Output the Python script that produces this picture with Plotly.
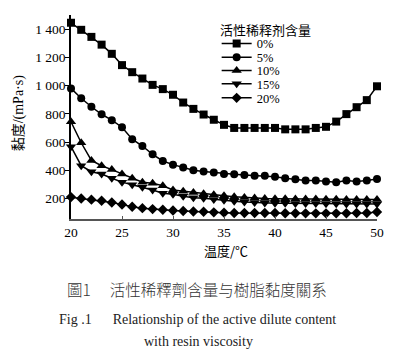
import plotly.graph_objects as go

# ---- data ----
temperature = [20, 21, 22, 23, 24, 25, 26, 27, 28, 29, 30, 31, 32, 33, 34, 35,
               36, 37, 38, 39, 40, 41, 42, 43, 44, 45, 46, 47, 48, 49, 50]
visc_0 = [1445, 1395, 1345, 1290, 1225, 1145, 1095, 1050, 1005, 975, 935, 880, 835, 795, 758, 722,
          700, 700, 700, 700, 700, 690, 690, 690, 700, 708, 745, 798, 847, 897, 995]
visc_5 = [980, 910, 850, 797, 755, 705, 620, 572, 513, 466, 440, 419, 400, 391, 384, 374,
          372, 367, 362, 362, 355, 344, 337, 327, 327, 320, 316, 327, 320, 327, 339]
visc_10 = [743, 595, 470, 432, 405, 374, 344, 316, 309, 290, 261, 252, 242, 234, 226, 219,
           213, 208, 204, 201, 199, 198, 197, 196, 196, 195, 195, 194, 194, 194, 194]
visc_15 = [567, 433, 390, 374, 344, 316, 297, 280, 261, 238, 231, 216, 206, 202, 194, 187,
           181, 176, 172, 169, 167, 166, 165, 164, 164, 163, 163, 162, 162, 162, 162]
visc_20 = [210, 200, 192, 184, 172, 158, 142, 132, 125, 120, 115, 112, 108, 106, 102, 100,
           98, 97, 97, 97, 97, 96, 96, 95, 95, 95, 95, 96, 97, 98, 105]

series_names = ["0%", "5%", "10%", "15%", "20%"]
series_values = [visc_0, visc_5, visc_10, visc_15, visc_20]
series_symbols = ["square", "circle", "triangle-up", "triangle-down", "diamond"]
series_sizes = [8, 8, 9, 9, 8]

x_ticks = [20, 25, 30, 35, 40, 45, 50]
y_ticks = [200, 400, 600, 800, 1000, 1200, 1400]
y_ticktext = ["200", "400", "600", "800", "1 000", "1 200", "1 400"]

legend_title = "活性稀释剂含量"
x_title = "温度/℃"
y_title = "黏度/(mPa·s)"
caption_cn = "圖1　 活性稀釋劑含量与樹脂黏度關系"
caption_en1 = "Fig .1      Relationship of the active dilute content"
caption_en2 = "with resin viscosity"

SERIF = "Liberation Serif, Noto Sans CJK SC"
CJK = "Noto Sans CJK SC, Liberation Serif"

fig = go.Figure()
legend_ids = ["legend", "legend2", "legend3", "legend4", "legend5"]
for name, vals, sym, sz, lid in zip(series_names, series_values, series_symbols, series_sizes, legend_ids):
    fig.add_trace(go.Scatter(
        x=temperature, y=vals, name=name, mode="lines+markers",
        line=dict(color="black", width=1.5),
        marker=dict(symbol=sym, size=sz, color="black"),
        cliponaxis=False, legend=lid,
    ))

legend_y = [0.858, 0.791, 0.726, 0.661, 0.592]
legend_layouts = {}
for lid, ly in zip(legend_ids, legend_y):
    legend_layouts[lid] = dict(
        x=0.476, y=ly, xanchor="left", yanchor="middle",
        bgcolor="rgba(0,0,0,0)", borderwidth=0,
        font=dict(family=SERIF, size=12.5, color="black"),
        itemwidth=30, tracegroupgap=0,
    )

fig.update_layout(
    width=404, height=359,
    margin=dict(l=71, r=27, t=15, b=140),
    paper_bgcolor="white", plot_bgcolor="white",
    showlegend=True,
    xaxis=dict(
        range=[20, 50], tickvals=x_ticks, showgrid=False, zeroline=False,
        showline=True, linecolor="#555", linewidth=1.5,
        ticks="inside", ticklen=3, tickcolor="#555",
        tickfont=dict(family=SERIF, size=13.5, color="black"),
    ),
    yaxis=dict(
        range=[55, 1500], tickvals=y_ticks, ticktext=y_ticktext,
        showgrid=False, zeroline=False,
        showline=True, linecolor="black", linewidth=1.5,
        ticks="outside", ticklen=4, tickcolor="black",
        ticklabelstandoff=-3,
        tickfont=dict(family=SERIF, size=13.5, color="black"),
    ),
    **legend_layouts,
)

fig.add_annotation(text=legend_title, xref="paper", yref="paper", x=0.482, y=0.93,
                   xanchor="left", yanchor="middle", showarrow=False,
                   font=dict(family=CJK, size=13, color="black"))
fig.add_annotation(text=x_title, xref="paper", yref="paper", x=0.506, y=-0.152,
                   xanchor="center", yanchor="middle", showarrow=False,
                   font=dict(family=CJK, size=13, color="black"))
fig.add_annotation(text=y_title, xref="paper", yref="paper", x=-0.1686, y=0.52,
                   xanchor="center", yanchor="middle", showarrow=False, textangle=-90,
                   font=dict(family=SERIF, size=14, color="black"))
fig.add_annotation(text=caption_cn, xref="paper", yref="paper", x=0.412, y=-0.342,
                   xanchor="center", yanchor="middle", showarrow=False,
                   font=dict(family=CJK, size=15.5, color="#333", weight=300))
fig.add_annotation(text=caption_en1, xref="paper", yref="paper", x=0.414, y=-0.493,
                   xanchor="center", yanchor="middle", showarrow=False,
                   font=dict(family=SERIF, size=14, color="#222"))
fig.add_annotation(text=caption_en2, xref="paper", yref="paper", x=0.416, y=-0.601,
                   xanchor="center", yanchor="middle", showarrow=False,
                   font=dict(family=SERIF, size=14, color="#222"))

fig.write_html("out.html", config={"displayModeBar": False},
               post_script="document.body.style.margin='0px';")
